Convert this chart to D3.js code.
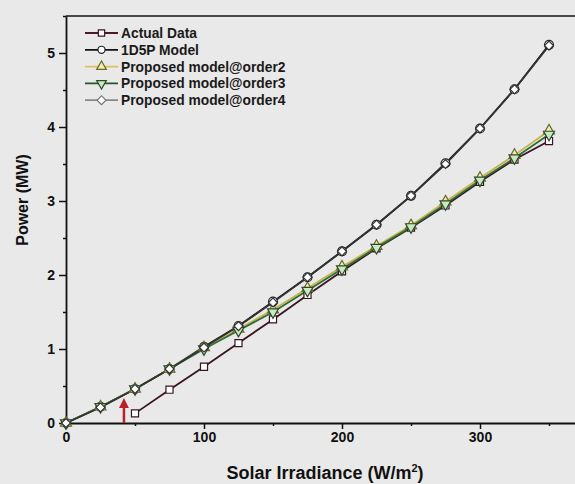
<!DOCTYPE html>
<html><head><meta charset="utf-8">
<script src="https://cdn.jsdelivr.net/npm/d3@7"></script>
<style>
html,body{margin:0;padding:0;background:#e9e9e9;}
svg{display:block;font-family:"Liberation Sans",Arial,sans-serif;}
</style></head>
<body><svg id="c" width="575" height="484"></svg>
<script>
// ---- data ----
const irradiance = [0,25,50,75,100,125,150,175,200,225,250,275,300,325,350];
const actualX    = [50,75,100,125,150,175,200,225,250,275,300,325,350];
const actualData = [0.13,0.45,0.76,1.08,1.40,1.73,2.05,2.36,2.64,2.94,3.26,3.56,3.81];
const model1D5P  = [0,0.22,0.46,0.73,1.03,1.31,1.64,1.97,2.32,2.68,3.07,3.51,3.98,4.51,5.11];
const order2     = [0,0.22,0.46,0.73,1.02,1.27,1.53,1.82,2.11,2.39,2.67,2.99,3.31,3.62,3.95];
const order3     = [0,0.22,0.46,0.73,1.00,1.25,1.50,1.79,2.08,2.37,2.65,2.96,3.28,3.58,3.90];
const order4     = [0,0.21,0.46,0.73,1.02,1.31,1.63,1.97,2.32,2.68,3.07,3.50,3.98,4.51,5.10];
const xMajor = [0,100,200,300];
const xMinor = [50,150,250,350];
const yMajor = [0,1,2,3,4,5];
const yMinor = [0.5,1.5,2.5,3.5,4.5,5.5];
const arrowAt = [42, 0, 0.35];

const series = [
  {name:"Actual Data", xs:actualX, ys:actualData, line:"#3a1520", legendLine:"#4d1a28", fill:"#ffffff", stroke:"#3a1520", sym:d3.symbolSquare, size:50},
  {name:"1D5P Model", xs:irradiance, ys:model1D5P, line:"#111111", legendLine:"#111111", fill:"#ffffff", stroke:"#222222", sym:d3.symbolCircle, size:62},
  {name:"Proposed model@order2", xs:irradiance, ys:order2, line:"#c9b24a", legendLine:"#d9c25a", fill:"#f3ecb0", stroke:"#6b6a2a", sym:d3.symbolTriangle, size:52, rot:0},
  {name:"Proposed model@order3", xs:irradiance, ys:order3, line:"#2a6e38", legendLine:"#1e5a2c", fill:"#c9e8c4", stroke:"#2d4a2a", sym:d3.symbolTriangle, size:52, rot:180},
  {name:"Proposed model@order4", xs:irradiance, ys:order4, line:"#333333", legendLine:"#888888", fill:"#ffffff", stroke:"#333333", sym:d3.symbolSquare, size:40, rot:45}
];

const svg = d3.select("#c");
const x = d3.scaleLinear().domain([0,370]).range([66,576.6]);
const y = d3.scaleLinear().domain([0,5.5]).range([423,16]);

// frame top
svg.append("line").attr("x1",66).attr("x2",575).attr("y1",y(5.5)).attr("y2",y(5.5))
  .attr("stroke","#111").attr("stroke-width",1.6);

function styleAxis(g){
  g.select(".domain").attr("stroke","#111").attr("stroke-width",1.8);
  g.selectAll(".tick line").attr("stroke","#111").attr("stroke-width",1.5);
  g.selectAll(".tick text").attr("fill","#111").attr("font-weight","bold").attr("font-size","14px")
    .attr("font-family","'Liberation Sans',Arial,sans-serif");
}
const gx = svg.append("g").attr("transform",`translate(0,${y(0)})`)
  .call(d3.axisBottom(x).tickValues(xMajor).tickFormat(d3.format("d")).tickSize(6).tickPadding(3).tickSizeOuter(0));
styleAxis(gx);
const gxm = svg.append("g").attr("transform",`translate(0,${y(0)})`)
  .call(d3.axisBottom(x).tickValues(xMinor).tickSize(3).tickFormat("").tickSizeOuter(0));
styleAxis(gxm); gxm.select(".domain").remove();

const gy = svg.append("g").attr("transform",`translate(${x(0)},0)`)
  .call(d3.axisLeft(y).tickValues(yMajor).tickFormat(d3.format("d")).tickSize(7).tickPadding(4).tickSizeOuter(0));
styleAxis(gy);
const gym = svg.append("g").attr("transform",`translate(${x(0)},0)`)
  .call(d3.axisLeft(y).tickValues(yMinor).tickSize(3).tickFormat("").tickSizeOuter(0));
styleAxis(gym); gym.select(".domain").remove();

// axis titles
svg.append("text").attr("x",325).attr("y",479).attr("text-anchor","middle")
  .attr("font-weight","bold").attr("font-size","18px").attr("fill","#111")
  .html('Solar Irradiance (W/m<tspan dy="-7" font-size="11px">2</tspan><tspan dy="7">)</tspan>');
svg.append("text").attr("transform","translate(28,200) rotate(-90)").attr("text-anchor","middle")
  .attr("font-weight","bold").attr("font-size","16px").attr("fill","#111").text("Power (MW)");

// arrow annotation
svg.append("defs").append("marker").attr("id","ah").attr("viewBox","0 0 10 10")
  .attr("refX",5).attr("refY",5).attr("markerWidth",4).attr("markerHeight",4).attr("orient","auto")
  .append("path").attr("d","M0,0 L10,5 L0,10 z").attr("fill","#b8202a");
svg.append("line").attr("x1",x(arrowAt[0])).attr("x2",x(arrowAt[0]))
  .attr("y1",y(arrowAt[1])).attr("y2",y(arrowAt[2])+6)
  .attr("stroke","#b8202a").attr("stroke-width",2.5).attr("marker-end","url(#ah)");

// series
const line = d3.line();
series.forEach(s=>{
  const pts = s.xs.map((v,i)=>[x(v), y(s.ys[i])]);
  svg.append("path").attr("d",line(pts)).attr("fill","none")
    .attr("stroke",s.line).attr("stroke-width",1.8);
});
series.forEach(s=>{
  const sym = d3.symbol().type(s.sym).size(s.size);
  s.xs.forEach((v,i)=>{
    svg.append("path").attr("d",sym())
      .attr("transform",`translate(${x(v)},${y(s.ys[i])}) rotate(${s.rot||0})`)
      .attr("fill",s.fill).attr("stroke",s.stroke).attr("stroke-width",1.2);
  });
});

// legend
const lg = svg.append("g");
series.forEach((s,i)=>{
  const cy = 33 + i*16.8;
  lg.append("line").attr("x1",85).attr("x2",118).attr("y1",cy).attr("y2",cy)
    .attr("stroke",s.legendLine).attr("stroke-width",1.8);
  lg.append("path").attr("d",d3.symbol().type(s.sym).size(40)())
    .attr("transform",`translate(101.5,${cy}) rotate(${s.rot||0})`)
    .attr("fill",s.fill).attr("stroke",i===4?"#777":s.stroke).attr("stroke-width",1.2);
  lg.append("text").attr("x",121).attr("y",cy+5).attr("font-weight","bold")
    .attr("font-size","13.8px").attr("fill","#1a1a1a").text(s.name);
});
</script></body></html>
